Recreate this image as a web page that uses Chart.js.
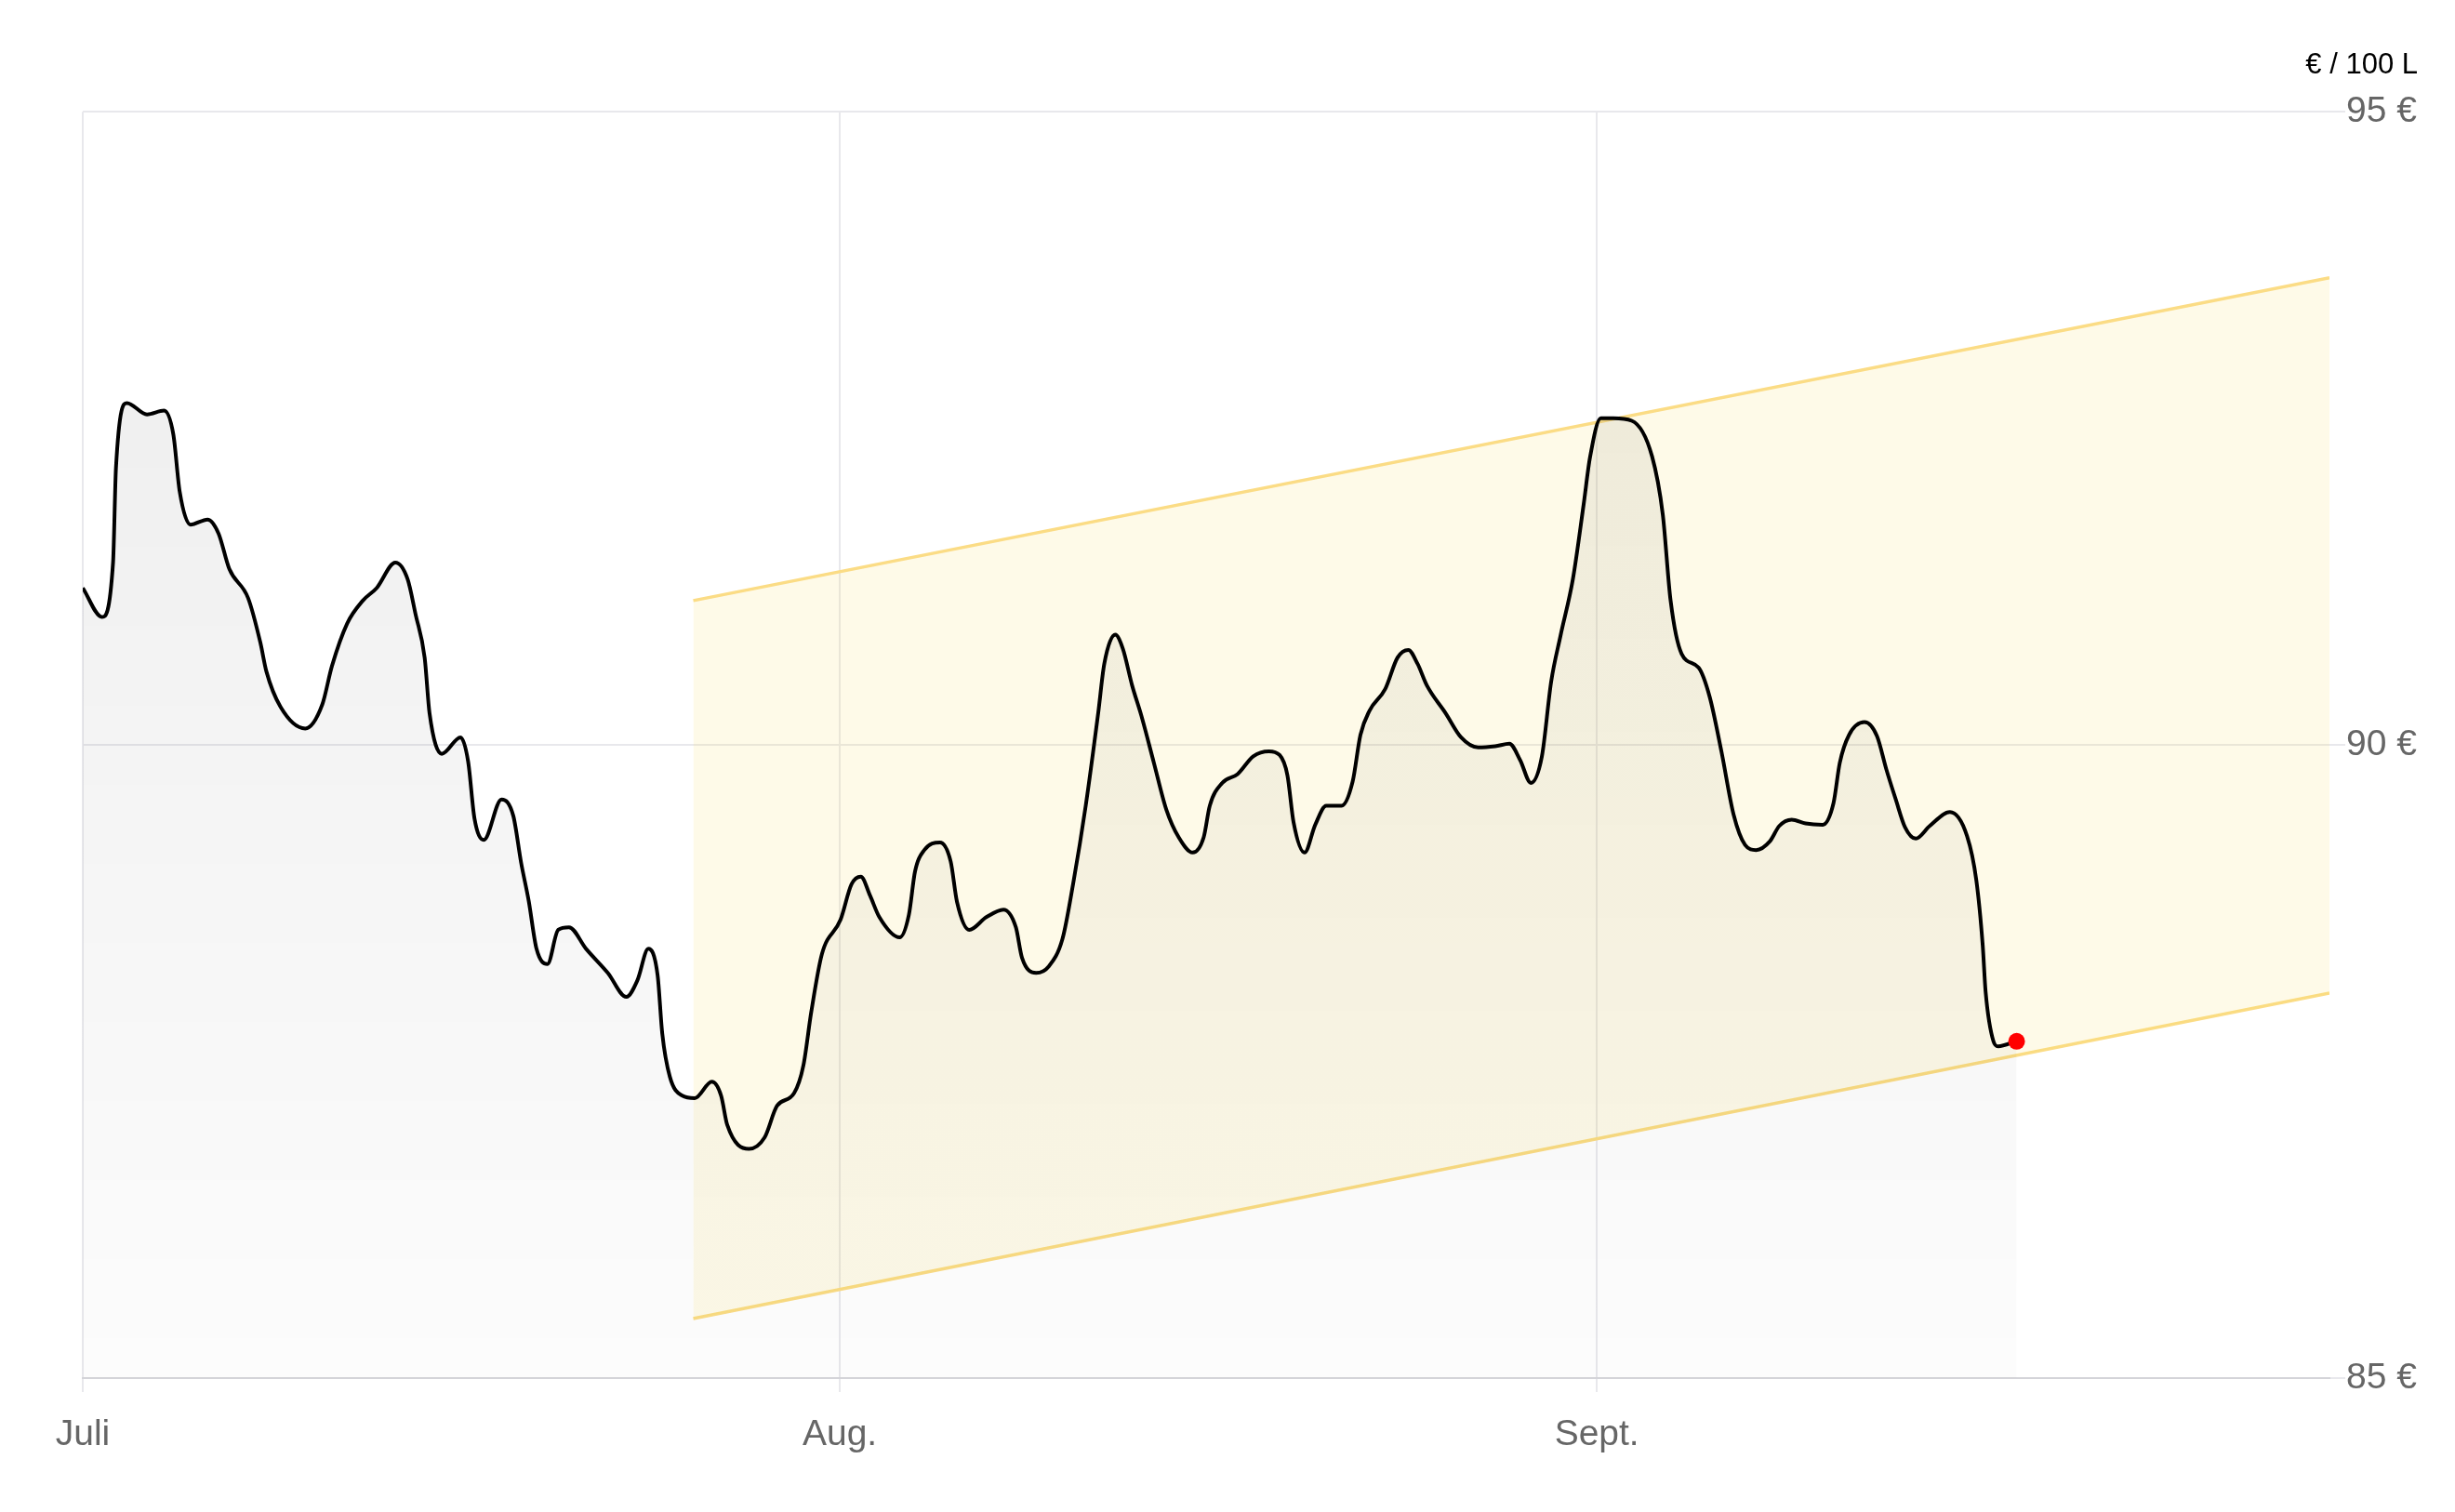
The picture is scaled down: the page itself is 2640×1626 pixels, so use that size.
<!DOCTYPE html>
<html>
<head>
<meta charset="utf-8">
<script src="https://cdn.jsdelivr.net/npm/chart.js@4.4.1/dist/chart.umd.min.js"></script>
<style>
  html, body { margin: 0; padding: 0; background: #fff; }
  canvas { display: block; }
</style>
</head>
<body>
<canvas id="priceChart" width="2640" height="1626"></canvas>
<script>
// x axis: days since 1 July
var monthTicks = [0, 31, 62];
var monthLabels = ['Juli', 'Aug.', 'Sept.'];

var days = [
    0, 0.79, 1.24, 1.36, 1.81, 2.63, 3.33, 3.71, 3.97, 4.41, 5.11, 5.56, 6, 6.77, 7.27, 7.52, 8.1,
    9.11, 9.81, 10.2, 10.83, 11.47, 12.04, 12.8, 13.3, 13.63, 14, 14.2, 14.7, 15.47, 15.78, 16.04,
    16.42, 17.15, 17.63, 17.95, 18.26, 18.58, 19.03, 19.47, 19.91, 20.61, 21.5, 22.26, 22.71, 23.16,
    23.54, 23.73, 24.04, 24.55, 25.06, 25.76, 26.14, 26.39, 27.28, 27.92, 28.43, 29.13, 29.51, 29.83,
    30.27, 31.03, 31.48, 31.86, 32.24, 32.62, 33.45, 33.83, 34.08, 34.46, 35.1, 35.54, 35.8, 36.3,
    37, 37.7, 38.21, 38.46, 39.04, 39.55, 40.12, 40.56, 41.07, 41.58, 41.83, 42.28, 42.59, 42.97,
    43.35, 43.86, 44.37, 44.88, 45.45, 45.9, 46.15, 46.66, 47.29, 47.93, 48.57, 49.01, 49.33, 49.58,
    50.03, 50.47, 50.92, 51.55, 52, 52.32, 52.69, 53.33, 53.84, 54.28, 54.66, 55.04, 55.81, 56.44,
    57.14, 57.84, 58.42, 58.86, 59.3, 59.75, 60.13, 60.51, 61.02, 61.46, 61.72, 62.16, 62.67, 63.43,
    64.26, 64.7, 65.02, 65.47, 66.17, 66.62, 67.1, 67.6, 68.07, 68.52, 69.09, 69.47, 69.98, 70.55,
    71.25, 71.69, 71.95, 72.33, 72.96, 73.47, 73.85, 74.24, 74.62, 75.06, 75.63, 76.46, 77.16, 77.54,
    77.8, 77.92, 78.24, 78.43, 79.19
];

var prices = [
    91.24, 91.01, 91.44, 92.19, 92.70, 92.61, 92.64, 92.45, 92.00, 91.74, 91.78, 91.67, 91.39, 91.16, 90.81, 90.58, 90.30,
    90.13, 90.32, 90.62, 90.96, 91.14, 91.24, 91.44, 91.31, 91.03, 90.69, 90.25, 89.93, 90.06, 89.87, 89.42,
    89.25, 89.57, 89.44, 89.07, 88.77, 88.39, 88.27, 88.54, 88.56, 88.39, 88.20, 88.01, 88.14, 88.39,
    88.18, 87.72, 87.38, 87.23, 87.21, 87.34, 87.23, 87.00, 86.81, 86.90, 87.15, 87.25, 87.47, 87.89,
    88.35, 88.62, 88.90, 88.96, 88.81, 88.64, 88.48, 88.66, 89.00, 89.17, 89.23, 89.08, 88.76, 88.54,
    88.64, 88.70, 88.56, 88.32, 88.20, 88.25, 88.47, 88.91, 89.52, 90.25, 90.64, 90.87, 90.76, 90.47,
    90.23, 89.86, 89.49, 89.27, 89.15, 89.27, 89.52, 89.70, 89.77, 89.91, 89.95, 89.92, 89.76, 89.39,
    89.15, 89.37, 89.52, 89.52, 89.71, 90.08, 90.27, 90.44, 90.69, 90.75, 90.64, 90.47, 90.25, 90.06,
    89.98, 89.99, 90.01, 89.88, 89.70, 89.91, 90.50, 90.86, 91.31, 91.90, 92.27, 92.58, 92.58, 92.56,
    92.28, 91.82, 91.14, 90.72, 90.61, 90.38, 89.95, 89.45, 89.21, 89.17, 89.24, 89.36, 89.41, 89.38,
    89.37, 89.54, 89.86, 90.08, 90.18, 90.07, 89.81, 89.57, 89.35, 89.26, 89.36, 89.47, 89.28, 88.93,
    88.42, 88.05, 87.66, 87.62, 87.66
];

// forecast corridor
var bandDays = [25, 92];
var bandUpper = [91.14, 93.69];
var bandLower = [85.47, 88.04];

var unitLabel = '€ / 100 L';

function toPoints(xs, ys) {
    var out = [];
    for (var i = 0; i < xs.length; i++) {
        out.push({ x: xs[i], y: ys[i] });
    }
    return out;
}

function greyFill(context) {
    var area = context.chart.chartArea;
    if (!area) {
        return 'rgba(0,0,0,0.04)';
    }
    var g = context.chart.ctx.createLinearGradient(0, area.top, 0, area.bottom);
    g.addColorStop(0, 'rgba(0,0,0,0.075)');
    g.addColorStop(1, 'rgba(0,0,0,0.01)');
    return g;
}

var fontFamily = '"Liberation Sans", Arial, Helvetica, sans-serif';
var lastIndex = prices.length - 1;

var ctx = document.getElementById('priceChart').getContext('2d');
var priceChart = new Chart(ctx, {
    type: 'line',
    data: {
        datasets: [{
            label: 'Preis',
            data: toPoints(days, prices),
            borderColor: '#000000',
            borderWidth: 4,
            backgroundColor: greyFill,
            fill: 'start',
            cubicInterpolationMode: 'monotone',
            pointRadius: function(c) { return c.dataIndex === lastIndex ? 9 : 0; },
            pointBackgroundColor: '#ff0000',
            pointBorderWidth: 0,
            pointHoverRadius: 0
        }, {
            label: 'oben',
            data: toPoints(bandDays, bandUpper),
            borderColor: '#fbdc85',
            borderWidth: 3.5,
            backgroundColor: 'rgba(250,220,100,0.15)',
            fill: '+1',
            pointRadius: 0
        }, {
            label: 'unten',
            data: toPoints(bandDays, bandLower),
            borderColor: '#fbdc85',
            borderWidth: 3.5,
            fill: false,
            pointRadius: 0
        }]
    },
    options: {
        responsive: false,
        animation: false,
        devicePixelRatio: 1,
        layout: {
            padding: { left: 89, right: 40, top: 0, bottom: 0 }
        },
        plugins: {
            legend: { display: false },
            tooltip: { enabled: false },
            title: {
                display: true,
                text: unitLabel,
                align: 'end',
                color: '#000000',
                font: { family: fontFamily, size: 31, weight: 'normal', lineHeight: 1.2 },
                padding: { top: 52, bottom: 31 }
            }
        },
        scales: {
            x: {
                type: 'linear',
                min: 0,
                max: 92,
                afterBuildTicks: function(scale) {
                    scale.ticks = monthTicks.map(function(v) { return { value: v }; });
                },
                afterFit: function(scale) {
                    scale.height = 144;
                },
                ticks: {
                    autoSkip: false,
                    maxRotation: 0,
                    padding: 23,
                    color: '#666666',
                    font: { family: fontFamily, size: 39 },
                    callback: function(value) {
                        var i = monthTicks.indexOf(value);
                        return i >= 0 ? monthLabels[i] : '';
                    }
                },
                grid: {
                    color: '#e8e8ec',
                    lineWidth: 2,
                    tickLength: 15
                },
                border: {
                    color: '#d4d4d9',
                    width: 2
                }
            },
            y: {
                position: 'right',
                min: 85,
                max: 95,
                afterFit: function(scale) {
                    scale.width = 95;
                },
                ticks: {
                    stepSize: 5,
                    padding: 1,
                    color: '#666666',
                    font: { family: fontFamily, size: 39 },
                    callback: function(value) { return value + ' €'; }
                },
                grid: {
                    color: '#e8e8ec',
                    lineWidth: 2,
                    tickLength: 17
                },
                border: { display: false }
            }
        }
    }
});
</script>
</body>
</html>
